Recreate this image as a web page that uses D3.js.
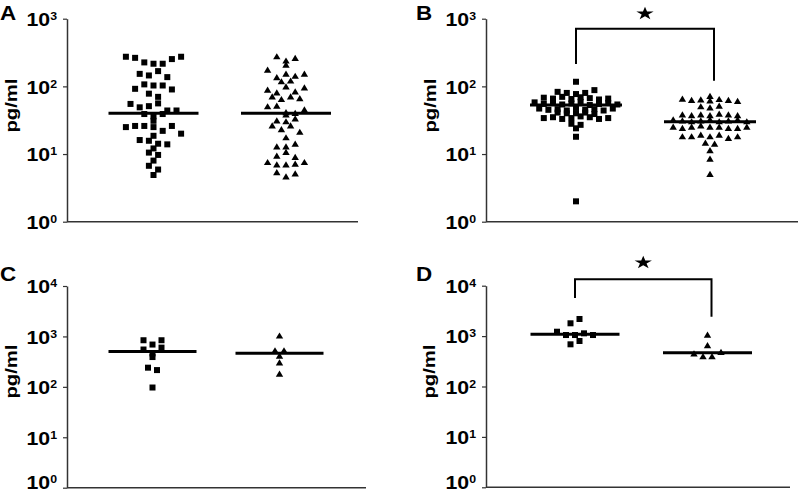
<!DOCTYPE html>
<html>
<head>
<meta charset="utf-8">
<script src="https://cdn.jsdelivr.net/npm/d3@7"></script>
<style>
  body { margin:0; background:#fff; }
  svg { display:block; font-family:"Liberation Sans", Arial, sans-serif; font-weight:bold; }
</style>
</head>
<body>
<svg id="chart" width="800" height="496"></svg>
<script>
// ---- values (pg/ml) ----
const groups = ["squares", "triangles"];
const ticksAB = [1, 10, 100, 1000];
const ticksCD = [1, 10, 100, 1000, 10000];

const aSquares = [274, 264, 226, 216, 216, 253, 274,
  153, 145, 168, 137,
  92, 107, 103, 103, 90,
  78, 70,
  55, 49, 51, 56,
  44, 39, 36, 39, 44,
  31, 25, 26, 26, 25, 22, 26,
  20, 18.6, 16.1, 15.7, 14.2, 13.9,
  12.1, 10.5, 9.7,
  8.0, 6.7, 5.9, 4.9];
const aTriangles = [274, 237, 206, 259,
  174, 135, 152, 141, 152, 117, 120,
  88, 80, 98, 70, 83, 95, 64, 70, 66,
  50, 51, 41, 38, 40, 45,
  31, 26, 23, 26, 30, 33, 21,
  17.4, 12.8, 12.8, 14, 9.3, 10.6,
  8.9, 7.5, 6.9, 6.9, 7.1, 7.5,
  5.3, 4.6, 5.1];
const aMedians = [40, 40];

const bSquares = [117,
  83, 80, 77, 80, 88,
  68, 66, 70, 65, 69, 67, 64, 66,
  58, 55, 57, 54, 56, 59, 53, 55, 57, 54,
  47, 45, 46, 44, 48, 45, 46, 44, 47,
  41, 40, 40, 41, 39,
  34, 35, 33, 34, 36, 35, 33, 34,
  28, 27, 24, 18, 2];
const bTriangles = [71,
  65, 62, 63, 61, 64, 62, 60,
  50, 48, 51,
  38, 37, 38, 37, 39, 38, 37,
  32, 31, 30, 31, 32, 30, 31, 32, 30,
  25, 24, 25, 26, 25, 25, 24, 24, 25,
  18, 18, 19, 18, 19, 17, 18,
  14.5, 14,
  11.2, 8.4, 5.0];
const bMedians = [53, 30];

const cSquares = [840, 690, 840, 550, 460, 600, 390, 240, 215, 97];
const cTriangles = [1020, 520, 520, 405, 300, 178];
const cMedians = [500, 465];

const dSquares = [1795, 2185, 1222, 1050, 1050, 1135, 1050, 687, 800];
const dTriangles = [1050, 645, 444, 390, 390, 475];
const dMedians = [1085, 468];

// ---- layout ----
const panels = [
  { id: "A", data: [aSquares, aTriangles], medians: aMedians, ticks: ticksAB,
    axisX: 67, xEnd: 358, top: 18.7, bottom: 221.7, centers: [153.5, 286],
    letter: [0, 19.5], ylab: [17, 105.5], gap: 4, span: 8, step: 9.2, half: 45 },
  { id: "B", data: [bSquares, bTriangles], medians: bMedians, ticks: ticksAB,
    axisX: 486, xEnd: 798, top: 18.7, bottom: 221.7, centers: [576, 710],
    letter: [416, 19.5], ylab: [436, 105.5], gap: 2, span: 8, step: 9.2, half: 46,
    bracket: { top: 28.7, left: 64, right: 80.7, star: 12.7 } },
  { id: "C", data: [cSquares, cTriangles], medians: cMedians, ticks: ticksCD,
    axisX: 67, xEnd: 366, top: 286, bottom: 487.7, centers: [152.5, 279.5],
    letter: [0, 280.5], ylab: [17, 371.5], gap: 4.5, span: 6, step: 9, half: 44 },
  { id: "D", data: [dSquares, dTriangles], medians: dMedians, ticks: ticksCD,
    axisX: 486, xEnd: 790, top: 285.7, bottom: 487.3, centers: [575, 707.5],
    letter: [416, 280.5], ylab: [435, 371.5], gap: 4.5, span: 6, step: 9, half: 44.5,
    bracket: { top: 279.3, left: 298, right: 316.7, star: 261.7 } }
];

const svg = d3.select("#chart");
const axisColor = "#333";

// GraphPad-like scatter: points that fall in the same horizontal band are spread in a centred row
function rowLayout(values, y, gap, maxSpan) {
  const pts = values.map((v, i) => ({ v, i, py: y(v) }));
  const byY = pts.slice().sort((a, b) => a.py - b.py || a.i - b.i);
  const rows = [];
  let row = null, prev = null;
  byY.forEach(p => {
    if (!row || p.py - prev > gap || p.py - row.start > maxSpan) {
      row = { start: p.py, items: [] };
      rows.push(row);
    }
    row.items.push(p);
    prev = p.py;
  });
  rows.forEach(r => {
    r.items.sort((a, b) => a.i - b.i);
    r.items.forEach((p, k) => p.col = k - (r.items.length - 1) / 2);
  });
  return pts;
}

const triPath = "M0,-3.6L3.7,2.6L-3.7,2.6Z";

panels.forEach(p => {
  const g = svg.append("g").attr("class", "panel-" + p.id);
  const y = d3.scaleLog().domain([1, d3.max(p.ticks)]).range([p.bottom, p.top]);
  const x = d3.scalePoint().domain(groups).range(p.centers);

  // y axis
  const yAxis = d3.axisLeft(y).tickValues(p.ticks).tickFormat("").tickSize(4).tickSizeOuter(0);
  const ag = g.append("g").attr("transform", `translate(${p.axisX},0)`).call(yAxis);
  ag.select(".domain").attr("stroke", axisColor).attr("stroke-width", 1.5);
  ag.selectAll(".tick line").attr("stroke", axisColor).attr("stroke-width", 1.2);

  // x axis line
  g.append("line")
    .attr("x1", p.axisX).attr("x2", p.xEnd)
    .attr("y1", p.bottom).attr("y2", p.bottom)
    .attr("stroke", axisColor).attr("stroke-width", 1.5);

  // tick labels 10^n
  p.ticks.forEach(t => {
    const cy = Math.min(y(t) + 0.5, 482.5);
    const txt = g.append("text")
      .attr("transform", `translate(${p.axisX - 10},${cy + 6.8}) scale(1.12,1)`)
      .attr("text-anchor", "end")
      .attr("fill", "#000");
    txt.append("tspan").attr("font-size", 19).text("10");
    txt.append("tspan").attr("font-size", 11).attr("dy", -6).text(Math.round(Math.log10(t)));
  });

  // y label
  g.append("text")
    .attr("transform", `translate(${p.ylab[0]},${p.ylab[1]}) rotate(-90)`)
    .attr("text-anchor", "middle")
    .attr("font-size", 17)
    .attr("textLength", 54)
    .attr("lengthAdjust", "spacingAndGlyphs")
    .text("pg/ml");

  // panel letter
  g.append("text")
    .attr("transform", `translate(${p.letter[0]},${p.letter[1]}) scale(1.12,1)`)
    .attr("font-size", 20)
    .text(p.id);

  // points
  p.data.forEach((vals, gi) => {
    const cx = x(groups[gi]);
    const pts = rowLayout(vals, y, p.gap, p.span);
    if (gi === 0) {
      g.append("g").selectAll("rect").data(pts).join("rect")
        .attr("x", d => cx + d.col * p.step - 3)
        .attr("y", d => d.py - 3)
        .attr("width", 6).attr("height", 6)
        .attr("fill", "#000");
    } else {
      g.append("g").selectAll("path").data(pts).join("path")
        .attr("d", triPath)
        .attr("transform", d => `translate(${cx + d.col * p.step},${d.py})`)
        .attr("fill", "#000");
    }
    // median
    g.append("line")
      .attr("x1", cx - p.half).attr("x2", cx + p.half)
      .attr("y1", y(p.medians[gi])).attr("y2", y(p.medians[gi]))
      .attr("stroke", "#000").attr("stroke-width", 3);
  });

  // significance bracket
  if (p.bracket) {
    const b = p.bracket;
    const x1 = x(groups[0]), x2 = x(groups[1]) + 4;
    g.append("path")
      .attr("d", `M${x1},${b.left}V${b.top}H${x2}V${b.right}`)
      .attr("fill", "none").attr("stroke", "#000").attr("stroke-width", 2);
    g.append("path")
      .attr("d", d3.symbol(d3.symbolStar, 55)())
      .attr("transform", `translate(${(x1 + x2) / 2},${b.star + 1}) scale(1.3,1)`)
      .attr("fill", "#000");
  }
});
</script>
</body>
</html>
